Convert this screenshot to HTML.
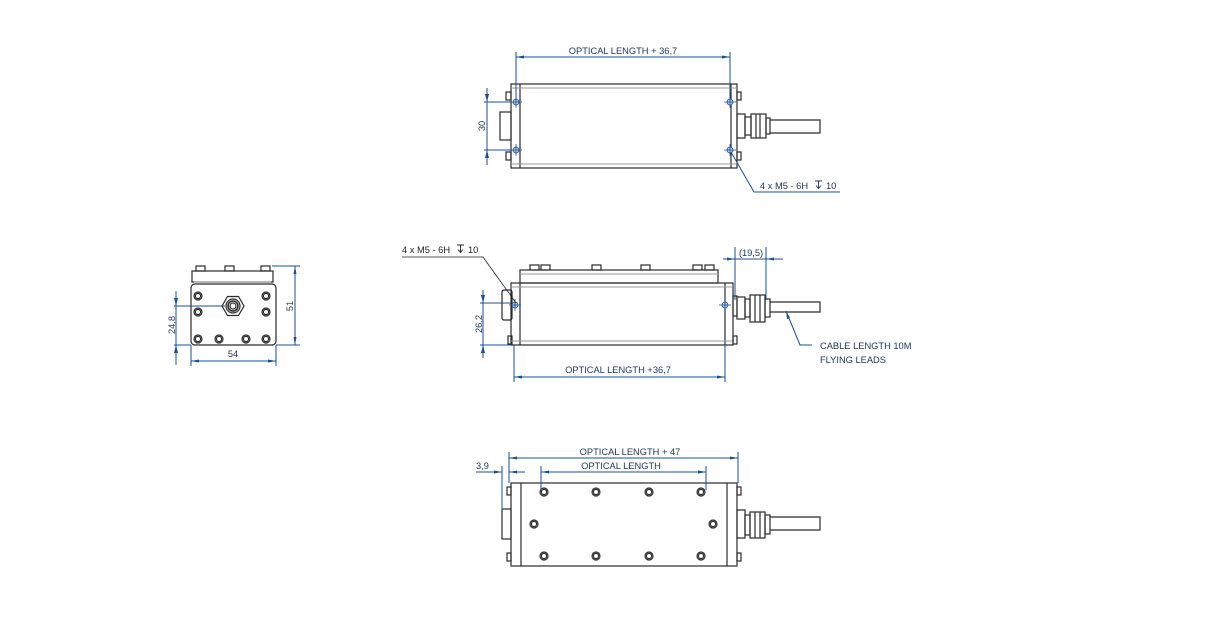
<!DOCTYPE html>
<html><head><meta charset="utf-8"><style>
html,body{margin:0;padding:0;background:#fff;width:1225px;height:622px;overflow:hidden}
svg{display:block}
text{font-family:"Liberation Sans",sans-serif;font-size:9.3px;fill:#1d3557}
.b{stroke:#2a2a2a;stroke-width:1.2;fill:none}
.bf{stroke:#2a2a2a;stroke-width:1.2;fill:#fff}
.g{stroke:#999;stroke-width:1;fill:none}
.d{stroke:#1b4f8f;stroke-width:1;fill:none}
.a{fill:#1b4f8f;stroke:none}
.c{stroke:#1b4f8f;stroke-width:0.8;fill:none}
</style></head><body>
<svg width="1225" height="622" viewBox="0 0 1225 622">
<defs>
<marker id="ar" markerWidth="8" markerHeight="6" refX="8" refY="3" orient="auto-start-reverse" markerUnits="userSpaceOnUse"><path d="M0,1.5 L8,3 L0,4.5z" fill="#1b4f8f"/></marker>
<g id="hole"><circle r="4" class="bf"/><circle r="2.6" class="b"/></g>
<g id="th"><circle r="3" fill="#b8cde6" stroke="#1b4f8f" stroke-width="0.8"/><path d="M-6,0H6M0,-6V6" class="c"/></g>
<g id="dep"><path d="M0,0H7M3.5,0V7M1,4.5L3.5,7.5L6,4.5" fill="none" stroke-width="0.9"/></g>
</defs>

<!-- ===== TOP VIEW ===== -->
<rect x="500" y="112" width="11" height="28" class="b"/>
<rect x="506" y="92" width="5" height="8" class="b"/><rect x="506" y="152" width="5" height="8" class="b"/>
<rect x="511" y="84" width="226" height="84" class="b"/>
<line x1="520" y1="84" x2="520" y2="168" class="b"/><line x1="731" y1="84" x2="731" y2="168" class="b"/>
<line x1="511" y1="88" x2="737" y2="88" class="g"/><line x1="511" y1="164" x2="737" y2="164" class="g"/>
<rect x="737" y="92" width="4" height="8" class="b"/><rect x="737" y="152" width="4" height="8" class="b"/>
<rect x="737" y="114" width="8" height="24" class="b"/>
<rect x="745" y="117" width="6" height="18" class="b"/><rect x="751" y="114" width="15" height="24" class="b"/>
<line x1="756" y1="114" x2="756" y2="138" class="b"/><line x1="760" y1="114" x2="760" y2="138" class="b"/>
<rect x="766" y="118" width="4" height="16" class="b"/>
<path d="M770,120H820V133H770" class="b"/>
<use href="#th" x="516" y="102"/><use href="#th" x="516" y="150"/><use href="#th" x="730" y="102"/><use href="#th" x="730" y="150"/>
<line x1="516" y1="52" x2="516" y2="98" class="d"/><line x1="730" y1="52" x2="730" y2="98" class="d"/>
<line x1="516" y1="57" x2="730" y2="57" class="d" marker-start="url(#ar)" marker-end="url(#ar)"/>
<text x="623" y="54" text-anchor="middle">OPTICAL LENGTH + 36,7</text>
<line x1="484" y1="102" x2="511" y2="102" class="d"/><line x1="484" y1="150" x2="511" y2="150" class="d"/>
<line x1="487" y1="88" x2="487" y2="165" class="d"/>
<path d="M487,102l-2,-8h4z M487,150l-2,8h4z" class="a"/>
<text transform="translate(485,126) rotate(-90)" text-anchor="middle">30</text>
<path d="M731,152L754,192H840" class="d"/>
<text x="760" y="189">4 x M5 - 6H</text>
<use href="#dep" x="815" y="181" stroke="#1d3557"/>
<text x="826" y="189">10</text>

<!-- ===== SIDE VIEW ===== -->
<rect x="520" y="270" width="198" height="13" class="b"/>
<line x1="520" y1="274" x2="718" y2="274" class="g"/>
<g class="b">
<rect x="530" y="265" width="9" height="5"/><rect x="541" y="265" width="9" height="5"/>
<rect x="592" y="265" width="9" height="5"/><rect x="641" y="265" width="9" height="5"/>
<rect x="693" y="265" width="9" height="5"/><rect x="705" y="265" width="9" height="5"/>
</g>
<rect x="502" y="290" width="10" height="30" rx="2" class="b"/>
<rect x="508" y="336" width="4" height="8" class="b"/>
<rect x="511" y="283" width="222" height="62" class="b"/>
<line x1="520" y1="283" x2="520" y2="345" class="b"/><line x1="725" y1="283" x2="725" y2="345" class="b"/>
<line x1="511" y1="287" x2="733" y2="287" class="g"/><line x1="511" y1="341" x2="733" y2="341" class="g"/>
<rect x="733" y="296" width="4" height="20" class="b"/><rect x="733" y="336" width="4" height="8" class="b"/>
<rect x="737" y="297" width="8" height="22" class="b"/>
<rect x="745" y="299" width="5" height="18" class="b"/><rect x="750" y="295" width="15" height="27" class="b"/>
<line x1="755" y1="295" x2="755" y2="322" class="b"/><line x1="760" y1="295" x2="760" y2="322" class="b"/>
<rect x="765" y="299" width="5" height="18" class="b"/>
<path d="M770,302H820V312H770" class="b"/>
<use href="#th" x="515" y="305"/><use href="#th" x="725" y="305"/>
<path d="M402,257H483L516,303" fill="none" stroke="#222" stroke-width="0.8"/>
<text x="402" y="253" style="fill:#222">4 x M5 - 6H</text>
<use href="#dep" x="457" y="245" stroke="#222"/>
<text x="468" y="253" style="fill:#222">10</text>
<line x1="735" y1="247" x2="735" y2="300" class="d"/><line x1="766" y1="247" x2="766" y2="300" class="d"/>
<line x1="723" y1="259" x2="735" y2="259" class="d" marker-end="url(#ar)"/>
<line x1="783" y1="259" x2="766" y2="259" class="d" marker-end="url(#ar)"/>
<line x1="735" y1="259" x2="766" y2="259" class="d"/>
<text x="751" y="256" text-anchor="middle">(19,5)</text>
<path d="M786,311L800,345H812" class="d"/>
<path d="M786,311l1,8l3,-1z" class="a"/>
<text x="820" y="349">CABLE LENGTH 10M</text>
<text x="820" y="363">FLYING LEADS</text>
<line x1="480" y1="303" x2="511" y2="303" class="d"/><line x1="480" y1="345" x2="511" y2="345" class="d"/>
<line x1="483" y1="290" x2="483" y2="358" class="d"/>
<path d="M483,303l-2,-8h4z M483,345l-2,8h4z" class="a"/>
<text transform="translate(482,324) rotate(-90)" text-anchor="middle">26,2</text>
<line x1="514" y1="345" x2="514" y2="382" class="d"/><line x1="725" y1="345" x2="725" y2="382" class="d"/>
<line x1="514" y1="377" x2="725" y2="377" class="d" marker-start="url(#ar)" marker-end="url(#ar)"/>
<text x="618" y="373" text-anchor="middle">OPTICAL LENGTH +36,7</text>

<!-- ===== END VIEW ===== -->
<rect x="192" y="271" width="81" height="11" class="b"/>
<line x1="194" y1="282" x2="271" y2="282" class="g"/>
<g class="b"><rect x="196" y="266" width="9" height="5"/><rect x="225" y="266" width="9" height="5"/><rect x="261" y="266" width="9" height="5"/></g>
<rect x="191" y="284" width="85" height="61" rx="4" class="b"/>
<use href="#hole" x="198" y="296"/><use href="#hole" x="198" y="312"/>
<use href="#hole" x="266" y="296"/><use href="#hole" x="266" y="312"/>
<use href="#hole" x="198" y="339"/><use href="#hole" x="219" y="339"/><use href="#hole" x="246" y="339"/><use href="#hole" x="266" y="339"/>
<polygon points="222,306 227.5,296.5 238.5,296.5 244,306 238.5,315.5 227.5,315.5" class="bf"/>
<circle cx="233" cy="306" r="7" class="b"/><circle cx="233" cy="306" r="5" class="b" style="stroke-width:1.6"/><circle cx="233" cy="306" r="3" class="b"/>
<line x1="174" y1="306" x2="225" y2="306" class="d"/>
<line x1="174" y1="345" x2="191" y2="345" class="d"/>
<line x1="176" y1="291" x2="176" y2="365" class="d"/>
<path d="M176,306l-2,-8h4z M176,345l-2,8h4z" class="a"/>
<text transform="translate(175,325) rotate(-90)" text-anchor="middle">24,8</text>
<line x1="272" y1="266" x2="300" y2="266" class="d"/><line x1="276" y1="345" x2="300" y2="345" class="d"/>
<line x1="295" y1="266" x2="295" y2="345" class="d" marker-start="url(#ar)" marker-end="url(#ar)"/>
<text transform="translate(293,306) rotate(-90)" text-anchor="middle">51</text>
<line x1="191" y1="345" x2="191" y2="366" class="d"/><line x1="276" y1="345" x2="276" y2="366" class="d"/>
<line x1="191" y1="361" x2="276" y2="361" class="d" marker-start="url(#ar)" marker-end="url(#ar)"/>
<text x="233" y="357" text-anchor="middle">54</text>

<!-- ===== BOTTOM VIEW ===== -->
<rect x="502" y="509" width="9" height="30" class="b"/>
<rect x="507" y="487" width="4" height="8" class="b"/><rect x="507" y="553" width="4" height="8" class="b"/>
<rect x="511" y="483" width="226" height="83" class="b"/>
<line x1="521" y1="483" x2="521" y2="566" class="b"/><line x1="727" y1="483" x2="727" y2="566" class="b"/>
<rect x="737" y="487" width="4" height="8" class="b"/><rect x="737" y="553" width="4" height="8" class="b"/>
<rect x="737" y="510" width="8" height="28" class="b"/>
<rect x="745" y="515" width="5" height="20" class="b"/><rect x="750" y="512" width="15" height="26" class="b"/>
<line x1="755" y1="512" x2="755" y2="538" class="b"/><line x1="760" y1="512" x2="760" y2="538" class="b"/>
<rect x="765" y="515" width="5" height="19" class="b"/>
<path d="M770,517H820V530H770" class="b"/>
<g>
<use href="#hole" x="544" y="492"/><use href="#hole" x="596" y="492"/><use href="#hole" x="649" y="492"/><use href="#hole" x="701" y="492"/>
<use href="#hole" x="534" y="524"/><use href="#hole" x="713" y="524"/>
<use href="#hole" x="544" y="556"/><use href="#hole" x="596" y="556"/><use href="#hole" x="649" y="556"/><use href="#hole" x="701" y="556"/>
</g>
<line x1="509" y1="452" x2="509" y2="483" class="d"/><line x1="738" y1="452" x2="738" y2="483" class="d"/>
<line x1="509" y1="458" x2="738" y2="458" class="d" marker-start="url(#ar)" marker-end="url(#ar)"/>
<text x="630" y="455" text-anchor="middle">OPTICAL LENGTH + 47</text>
<line x1="541" y1="466" x2="541" y2="490" class="d"/><line x1="706" y1="466" x2="706" y2="490" class="d"/>
<line x1="541" y1="472" x2="706" y2="472" class="d" marker-start="url(#ar)" marker-end="url(#ar)"/>
<text x="621" y="469" text-anchor="middle">OPTICAL LENGTH</text>
<line x1="502" y1="466" x2="502" y2="510" class="d"/>
<line x1="476" y1="472" x2="502" y2="472" class="d" marker-end="url(#ar)"/>
<line x1="525" y1="472" x2="509" y2="472" class="d" marker-end="url(#ar)"/>
<text x="476" y="469">3,9</text>
</svg>
</body></html>
